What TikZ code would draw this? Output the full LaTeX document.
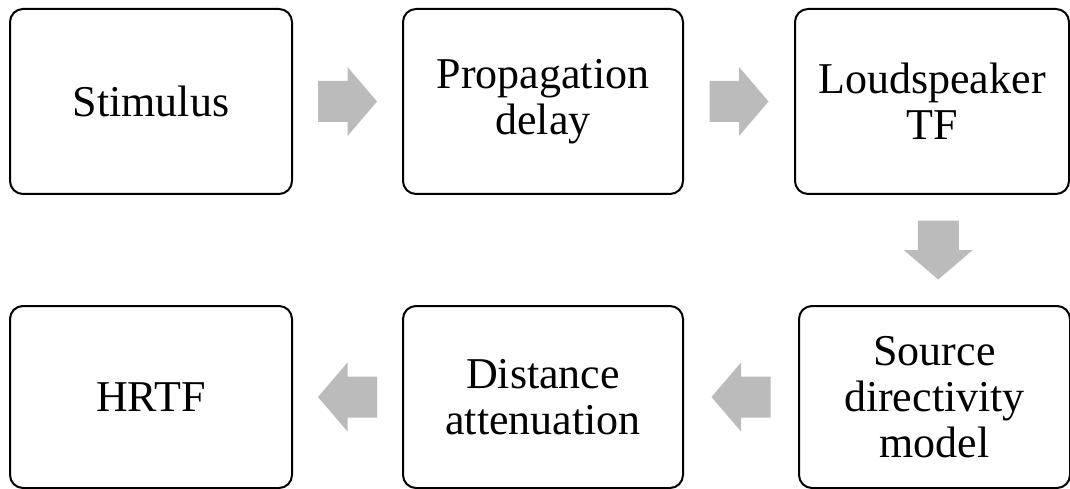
\documentclass[tikz,border=0pt]{standalone}
\usepackage{fontspec}
\setmainfont{Liberation Serif}
\usetikzlibrary{calc}
\definecolor{arrowgray}{RGB}{187,187,187}
\tikzset{
  stage/.style={draw=black, line width=2pt, rounded corners=13pt,
    align=center, inner sep=0pt, font=\fontsize{44}{46}\selectfont},
  flow/.pic={\fill[arrowgray] (-29.5,-20.5) -- (0,-20.5) -- (0,-34.5) -- (29.5,0)
    -- (0,34.5) -- (0,20.5) -- (-29.5,20.5) -- cycle;}
}
\begin{document}
\begin{tikzpicture}[x=1pt, y=-1pt]
\useasboundingbox (0,0) rectangle (1070,489);
% top row
\node[stage, minimum width=282pt, minimum height=185pt] (stim) at (151,101.5) {Stimulus};
\node[stage, minimum width=280pt, minimum height=185pt] (prop) at (543,101.5) {Propagation\\delay};
\node[stage, minimum width=274pt, minimum height=185pt] (loud) at (932,101.5) {Loudspeaker\\TF};
% bottom row
\node[stage, minimum width=271pt, minimum height=182pt] (src) at (934.5,397) {Source\\directivity\\model};
\node[stage, minimum width=280pt, minimum height=182pt] (dist) at (543,397) {Distance\\attenuation};
\node[stage, minimum width=282pt, minimum height=182pt] (hrtf) at (151,397) {HRTF};
% block arrows between the stages
\coordinate (a1) at ($(stim.east)!0.5!(prop.west)$);
\coordinate (a2) at ($(prop.east)!0.5!(loud.west)$);
\coordinate (a3) at ($(loud.south)!0.5!(src.north)$);
\coordinate (a4) at ($(src.west)!0.5!(dist.east)$);
\coordinate (a5) at ($(dist.west)!0.5!(hrtf.east)$);
\pic at (a1) {flow};
\pic at (a2) {flow};
\pic[rotate=-90] at ([xshift=5pt]a3) {flow};
\pic[rotate=180] at (a4) {flow};
\pic[rotate=180] at (a5) {flow};
\end{tikzpicture}
\end{document}
